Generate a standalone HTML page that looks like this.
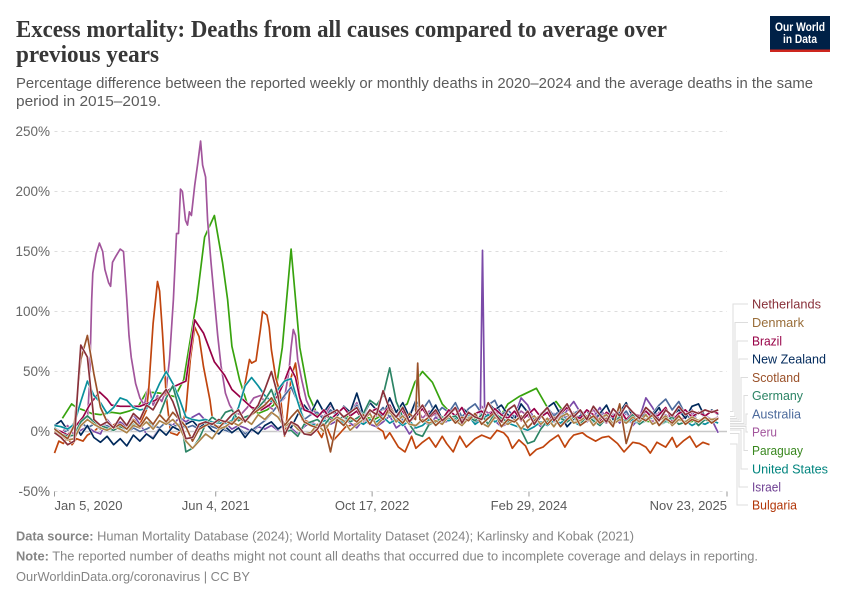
<!DOCTYPE html>
<html lang="en">
<head>
<meta charset="utf-8">
<title>Excess mortality</title>
<style>
html,body{margin:0;padding:0;background:#fff;}
svg{display:block;font-family:"Liberation Sans",sans-serif;}
</style>
</head>
<body>
<svg id="chart" xmlns="http://www.w3.org/2000/svg" width="850" height="600" viewBox="0 0 850 600">
  <text x="16" y="37" font-family="'Liberation Serif',serif" font-weight="700" font-size="24" fill="#373737" textLength="651" lengthAdjust="spacingAndGlyphs">Excess mortality: Deaths from all causes compared to average over</text>
  <text x="16" y="62" font-family="'Liberation Serif',serif" font-weight="700" font-size="24" fill="#373737" textLength="143" lengthAdjust="spacingAndGlyphs">previous years</text>
  <text x="16" y="88" font-size="14.5" fill="#5b5b5b" textLength="797" lengthAdjust="spacingAndGlyphs">Percentage difference between the reported weekly or monthly deaths in 2020–2024 and the average deaths in the same</text>
  <text x="16" y="106" font-size="14.5" fill="#5b5b5b" textLength="145" lengthAdjust="spacingAndGlyphs">period in 2015–2019.</text>

  <g>
    <rect x="770" y="16" width="60" height="36" fill="#002147"/>
    <rect x="770" y="49.5" width="60" height="2.5" fill="#ce261e"/>
    <text x="800" y="31" text-anchor="middle" font-size="12" font-weight="700" fill="#fff" textLength="50" lengthAdjust="spacingAndGlyphs">Our World</text>
    <text x="800" y="43" text-anchor="middle" font-size="12" font-weight="700" fill="#fff" textLength="34" lengthAdjust="spacingAndGlyphs">in Data</text>
  </g>

  <g id="grid"></g>
  <g id="yticks" font-size="13.5" fill="#666"></g>
  <g id="xticks" font-size="13" fill="#5b5b5b"></g>
  <g id="lines"></g>

  <g fill="none" stroke="#ddd" stroke-width="1">
    <polyline points="730,411.5 733,411.5 733,304 748,304"/>
    <polyline points="730,416.5 735,416.5 735,322.5 748,322.5"/>
    <polyline points="730,418.5 737,418.5 737,341 748,341"/>
    <polyline points="730,420 739,420 739,359 748,359"/>
    <polyline points="730,421.5 741,421.5 741,377.5 748,377.5"/>
    <polyline points="730,423.5 744,423.5 744,395.5 748,395.5"/>
    <polyline points="730,425 746,425 746,414 748,414"/>
    <polyline points="730,426.5 746,426.5 746,432 748,432"/>
    <polyline points="730,428.5 744,428.5 744,450.5 748,450.5"/>
    <polyline points="730,430 741,430 741,469 748,469"/>
    <polyline points="730,433.5 739,433.5 739,487 748,487"/>
    <polyline points="730,444 737,444 737,505 748,505"/>
  </g>

  <g font-size="13">
    <text x="752" y="308.5" fill="#883039" textLength="69" lengthAdjust="spacingAndGlyphs">Netherlands</text>
    <text x="752" y="327" fill="#996d39" textLength="52" lengthAdjust="spacingAndGlyphs">Denmark</text>
    <text x="752" y="345.5" fill="#970046" textLength="30" lengthAdjust="spacingAndGlyphs">Brazil</text>
    <text x="752" y="363.5" fill="#00295b" textLength="74" lengthAdjust="spacingAndGlyphs">New Zealand</text>
    <text x="752" y="382" fill="#9a5129" textLength="48" lengthAdjust="spacingAndGlyphs">Scotland</text>
    <text x="752" y="400" fill="#2c8465" textLength="51" lengthAdjust="spacingAndGlyphs">Germany</text>
    <text x="752" y="418.5" fill="#4c6a9c" textLength="49" lengthAdjust="spacingAndGlyphs">Australia</text>
    <text x="752" y="436.5" fill="#a2559c" textLength="25" lengthAdjust="spacingAndGlyphs">Peru</text>
    <text x="752" y="455" fill="#38871e" textLength="51" lengthAdjust="spacingAndGlyphs">Paraguay</text>
    <text x="752" y="473.5" fill="#00847e" textLength="76" lengthAdjust="spacingAndGlyphs">United States</text>
    <text x="752" y="491.5" fill="#6d3e91" textLength="29" lengthAdjust="spacingAndGlyphs">Israel</text>
    <text x="752" y="509.5" fill="#b13507" textLength="45" lengthAdjust="spacingAndGlyphs">Bulgaria</text>
  </g>

  <g font-size="13" fill="#858585">
    <text x="16" y="540.5" textLength="618" lengthAdjust="spacingAndGlyphs"><tspan font-weight="700">Data source:</tspan> Human Mortality Database (2024); World Mortality Dataset (2024); Karlinsky and Kobak (2021)</text>
    <text x="16" y="560.5" textLength="742" lengthAdjust="spacingAndGlyphs"><tspan font-weight="700">Note:</tspan> The reported number of deaths might not count all deaths that occurred due to incomplete coverage and delays in reporting.</text>
    <text x="16" y="581" textLength="234" lengthAdjust="spacingAndGlyphs">OurWorldinData.org/coronavirus | CC BY</text>
  </g>
</svg>

<script>
// Tick data
const yTickValues = [-50, 0, 50, 100, 150, 200, 250];
const xTickWeeks = [0, 73.6, 145, 216.6, 307];
const xTickLabels = ["Jan 5, 2020", "Jun 4, 2021", "Oct 17, 2022", "Feb 29, 2024", "Nov 23, 2025"];

// Series values (percent excess). "Weeks" are weeks since Jan 5, 2020; regular runs are every 3 weeks.
const netherlandsValues = [-1,-5,-11,-8,72,62,10,5,8,3, 12,5,15,10,22,18,28,35,25,10, -6,-5,6,8,6,10,8,14,18,8, 15,22,35,50,30,-3,8,5,-2,-3, 2,12,15,18,12,16,20,10,18,14, 34,18,12,20,8,15,22,12,18,9, 14,20,7,16,12,10,24,15,8,18, 22,10,17,6,14,20,9,16,23,12, 18,10,21,14,8,19,13,22,16,11, 20,15,9,18,13,21,14,17,15,18, 16,18];
const denmarkValues = [0,-3,-7,-6,5,10,6,3,1,4, 2,-1,5,3,8,2,9,6,10,4, -8,-14,-8,-2,-6,2,4,8,5,10, 6,14,10,16,12,4,8,2,-2,-1, 6,0,8,12,9,1,6,10,15,5, 11,17,8,13,6,5,10,7,9,6, 13,9,5,11,15,7,4,12,8,6, 10,2,9,13,6,11,4,12,15,7, 9,13,5,11,14,6,10,7,12,8, 14,6,9,13,5,10,8,12,9,11, 10,11];
const scotlandValuesA = [2,-2,-6,5,60,80,48,20,8,3, 6,2,9,4,12,6,14,8,16,10, 4,-8,2,5,7,3,9,6,12,8, 14,18,22,28,20,5,12,18,8,5, 3,6,-17,10,5,12,8,14,6,16, 10,20,12,7,15];
const scotlandSpikeWeeks = [164.8, 165.8, 166.8];
const scotlandSpikeValues = [10, 57, 10];
const scotlandValuesB = [8,12,5,10, 14,7,12,9,15,6,11,16,4,10, 8,13,3,9,14,6,12,4,10,15, 5,9,13,7,11,4,23,-10,8,12, 9,14,5,11,7,13,6,10,8,12, 7,11];
const germanyValues = [3,-2,-4,-3,8,13,8,5,3,1, 4,2,6,3,8,6,14,28,38,18, -17,-14,-6,6,12,8,16,18,9,12, 14,20,26,35,20,0,1,-4,6,8, 10,5,12,9,13,8,11,15,26,22, 30,53,25,12,6,-2,-4,6,8,12, 11,13,7,12,9,14,6,15,11,8, 10,1,-10,-8,2,9,5,11,8,12, 6,13,9,5,11,7,12,8,14,6, 10,13,5,9,12,6,8,11,5,10, 8,11];
const unitedStatesValues = [5,4,2,6,25,42,30,24,15,20, 28,26,20,18,19,28,40,50,40,27, 12,10,9,10,8,7,7,9,20,38, 45,38,30,25,35,42,44,25,8,6, 5,9,8,11,7,12,9,6,10,8, 12,7,10,5,9,3,5,10,8,12, 9,11,7,13,6,10,14,8,11,7, 5,3,1,4,8,5,9,7,11,8, 5,9,12,6,10,8,13,7,10,6, 9,12,5,8,11,6,9,5,8,6, 9,7];
const australiaValues = [3,-2,1,5,8,3,6,2,5,1, 4,-1,3,0,2,5,3,8,4,6, 3,5,2,7,4,2,1,-1,3,-2, 1,5,9,15,22,30,37,25,10,14, 16,10,18,13,20,15,22,12,18,14, 20,12,17,10,15,22,18,26,14,20, 16,24,12,19,23,15,22,26,14,18, 12,22,16,10,14,20,13,18,9,15, 18,12,10,16,9,14,11,17,8,13, 10,15,22,27,18,25,14,10,16,12, 9,11];
const newZealandValues = [5,9,1,7,-3,5,-5,-9,-4,-11, -6,-12,-3,-8,-2,-6,2,-3,4,1, 6,9,3,7,1,-2,4,-1,3,-5, 2,-2,5,8,2,6,3,14,22,15, 26,16,24,13,21,16,32,14,24,18, 12,28,16,24,12,26,18,14,22,10, 18,12,20,15,8,10,24,18,22,14, 10,23,16,6,12,20,24,14,4,10, 13,18,8,15,22,10,16,24,12,9, 17,13,20,8,14,18,11,21,23,12, 18,14];

const brazilWeeks = [0,3,6,9,13,16,20.5,24,26,30,34,39,46,54,60,64,68,73,77.6,81,87,90,94.5,98,102,105,107.5,110,112,114];
const brazilValues = [2,0,-3,3,12,22,33,27,22,21,21,21,26,37,42,93,82,58,47,35,25,20,18,22,30,42,54,45,28,18];
const brazilTailValues = [16, 12,18,10,15,20,13,17,9,16,19, 14,22,12,17,8,13,19,11,16,10, 18,13,20,9,15,17,12,19,14,11, 17,9,14,19,12,16,8,15,20,13, 11,18,14,9,16,12,19,10,15,13, 17,11,14,20,9,15,18,12,16,13, 17,15];

const peruWeeks = [0,3,6,9,12,15,16,17,17.5,19,20.5,22,23,24.7,25.6,26.5,28,30,31.5,33,34,35,37,39,41,43,45,47,49,51,52.5,54.3,55.7,56.6,57.5,58.4,59.8,60.7,61.6,62.5,64,65.5,66.7,67.6,69,69.9,71.5,73,74.5,76,78,80,82,85,88,91,94,97,100,103,105,107,108,109,110,111,113,115,117];
const peruValues = [2,-2,5,-3,4,10,40,110,132,148,157,150,135,124,121,141,146,152,150,110,80,62,40,28,22,38,22,30,25,35,60,110,165,165,202,200,176,172,183,180,205,225,242,222,212,176,140,110,80,55,32,22,16,14,20,28,30,22,18,24,28,50,70,85,80,60,42,26,18];
const peruTailValues = [16,12,22,14,20,16,24,10,18,13, 19,12,16,9,15,20,11,17,13,8, 14,19,10,16,12,21,15,18,9,14, 11,17,13,8,15,19,10,14,12,16, 9,13,18,11,7,15,12,9,14,10, 13,8,16,11,14,9,12,15,8,11, 10,12];

const paraguayWeeks = [3.6,7.8,10,13,17,21,26,30,34,38,42,48,55,59,65,68.5,73,76.7,79,81,84.5,88,93,97,100,104,108,112,116,120,124,129,133,137,142,146,150,155,161,164.5,168,172.5,177,181,186,190,194,199,203,207,212,220,225,229,233,238,242,247,251,255,260,264,268,273,277,281,286,290,295,300];
const paraguayValues = [11,23,20,18,15,14,16,15,17,20,33,32,29,43,110,162,180,141,110,71,43,23,15,18,22,70,152,70,30,14,12,10,13,9,12,10,14,16,23,41,50,41,23,15,10,12,9,13,11,23,29,36,20,25,15,10,12,9,11,8,10,12,9,8,11,7,9,8,10,8];

const bulgariaWeeks = [0,1,2,4,6,8,10,13,15,18,21,25,29,32,36,39,42,43,45,47,48,49.3,51,53,56,58,60,62,64,66,68,71,72,75,79,82,84,87,89,90,92,94,95,97,98,99,101,103,105,106,108,110,111,112,113,116,120,122,124,127,130,133,137,142,146,150,151,153,157,160,163,165,168,171,174,177,179,182,185,188,192,195,199,202,205,207,209,212,215,217,220,223,226,230,233,235,237,241,243,247,250,253,257,260,264,267,270,272,275,277,279,282,284,287,290,293,296,299];
const bulgariaValues = [-18,-13,-8,-10,-5,-11,-6,-8,-3,0,5,3,8,4,10,6,18,35,90,125,117,82,30,-1,-3,2,18,60,87,79,54,26,12,8,6,10,20,40,60,57,59,85,100,97,87,68,45,32,-4,10,45,57,42,29,10,8,1,-5,5,-8,-2,4,6,8,5,0,-6,-1,-13,-17,-4,-14,-9,-5,-13,-4,-10,-17,-4,-13,-6,-3,-6,1,-1,-5,-14,-7,-12,-20,-15,-13,-8,-3,-13,-7,-3,-1,-4,-8,-5,-4,-10,-17,-9,-10,-13,-18,-9,-11,-13,-5,-13,-8,-4,-13,-9,-11];

const israelValuesA = [3,0,-5,-3,1,4,0,-2,10,3, 8,4,14,6,-2,-5,3,8,5,12, 8,12,15,9,6,4,7,2,5,3, 0,4,2,5,1,6,3,-2,4,8, 5,11,6,9,12,7,3,10,6,4, 8,13,3,7,-2,4,10,5,12,7, 9,14,6,11,8];
const israelSpikeWeeks = [194.4, 195.4, 196.4];
const israelSpikeValues = [12, 151, 12];
const israelValuesB = [13,9,4,7, 12,28,22,10,4,8,15,6,18,25, 16,8,12,20,10,14,7,16,5,11, 28,20,10,14,8,16,12,18,6,13, 10,-1];

// Scales
const xLeft = 54.5, xRight = 727, weeksTotal = 307;
const yZero = 431.5, pxPerPercent = 1.2;
const xScale = w => xLeft + w * (xRight - xLeft) / weeksTotal;
const yScale = v => yZero - v * pxPerPercent;

// Helpers combining data into [week, value] pairs
const run = (start, values) => values.map((v, i) => [start + i * 3, v]);
const zip = (weeks, values) => weeks.map((w, i) => [w, values[i]]);

const seriesList = [
  { key: "paraguay", color: "#38a30e", points: zip(paraguayWeeks, paraguayValues) },
  { key: "peru", color: "#a2559c", points: zip(peruWeeks, peruValues).concat(run(120, peruTailValues)) },
  { key: "bulgaria", color: "#c0450e", points: zip(bulgariaWeeks, bulgariaValues) },
  { key: "israel", color: "#7b4aa8", points: run(0, israelValuesA).concat(zip(israelSpikeWeeks, israelSpikeValues), run(198, israelValuesB)) },
  { key: "australia", color: "#4c6a9c", points: run(0, australiaValues) },
  { key: "new-zealand", color: "#00295b", points: run(0, newZealandValues) },
  { key: "brazil", color: "#970046", points: zip(brazilWeeks, brazilValues).concat(run(117, brazilTailValues)) },
  { key: "united-states", color: "#0a8f9c", points: run(0, unitedStatesValues) },
  { key: "germany", color: "#2c8465", points: run(0, germanyValues) },
  { key: "denmark", color: "#ab8248", points: run(0, denmarkValues) },
  { key: "scotland", color: "#9a5129", points: run(0, scotlandValuesA).concat(zip(scotlandSpikeWeeks, scotlandSpikeValues), run(168, scotlandValuesB)) },
  { key: "netherlands", color: "#883039", points: run(0, netherlandsValues) }
];

const NS = "http://www.w3.org/2000/svg";

// Gridlines and y labels
const gridGroup = document.getElementById("grid");
const yGroup = document.getElementById("yticks");
yTickValues.forEach(v => {
  const line = document.createElementNS(NS, "line");
  line.setAttribute("x1", xLeft);
  line.setAttribute("x2", xRight);
  line.setAttribute("y1", yScale(v));
  line.setAttribute("y2", yScale(v));
  line.setAttribute("stroke", v === 0 ? "#c8c8c8" : "#dddddd");
  line.setAttribute("stroke-width", v === 0 ? "1.5" : "1");
  if (v !== 0) line.setAttribute("stroke-dasharray", "3 4");
  
  
  gridGroup.appendChild(line);

  const label = document.createElementNS(NS, "text");
  label.setAttribute("x", 50);
  label.setAttribute("y", yScale(v) + 4.5);
  label.setAttribute("text-anchor", "end");
  label.textContent = v + "%";
  
  
  yGroup.appendChild(label);
});

// X ticks and labels
const xGroup = document.getElementById("xticks");
xTickWeeks.forEach((w, i) => {
  const tick = document.createElementNS(NS, "line");
  tick.setAttribute("x1", xScale(w));
  tick.setAttribute("x2", xScale(w));
  tick.setAttribute("y1", 491.5);
  tick.setAttribute("y2", 496.5);
  tick.setAttribute("stroke", "#999");
  
  
  xGroup.appendChild(tick);

  const label = document.createElementNS(NS, "text");
  label.setAttribute("x", xScale(w));
  label.setAttribute("y", 510);
  label.setAttribute("text-anchor", i === 0 ? "start" : (i === xTickWeeks.length - 1 ? "end" : "middle"));
  label.textContent = xTickLabels[i];
  
  
  xGroup.appendChild(label);
});

// Series lines
const lineGroup = document.getElementById("lines");
seriesList.forEach(s => {
  const d = s.points.map(p => xScale(p[0]).toFixed(1) + "," + yScale(p[1]).toFixed(1)).join(" ");
  const halo = document.createElementNS(NS, "polyline");
  halo.setAttribute("points", d);
  halo.setAttribute("fill", "none");
  halo.setAttribute("stroke", "#fff");
  halo.setAttribute("stroke-width", "2.6");
  halo.setAttribute("stroke-linejoin", "round");
  
  
  lineGroup.appendChild(halo);

  const line = document.createElementNS(NS, "polyline");
  line.setAttribute("points", d);
  line.setAttribute("fill", "none");
  line.setAttribute("stroke", s.color);
  line.setAttribute("stroke-width", "1.7");
  line.setAttribute("stroke-linejoin", "round");
  
  
  lineGroup.appendChild(line);
});
</script>
</body>
</html>
